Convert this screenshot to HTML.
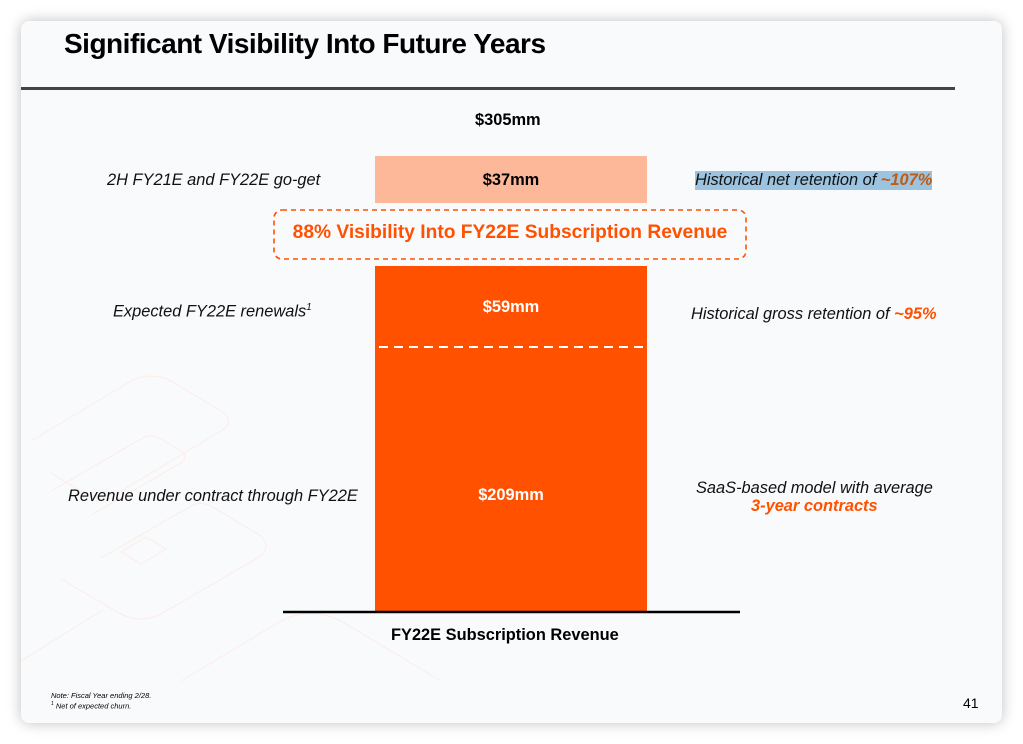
<!DOCTYPE html>
<html><head><meta charset="utf-8"><style>
html,body{margin:0;padding:0;width:1023px;height:744px;background:#fff;overflow:hidden;font-family:"Liberation Sans",Arial,sans-serif}
.slide{position:absolute;left:21px;top:21px;width:981px;height:702px;background:#f9fafc;border-radius:8px;box-shadow:0 0 14px rgba(0,0,0,0.25);overflow:hidden}
.a{position:absolute;white-space:nowrap}
.t{left:43px;top:7px;font-size:28px;font-weight:bold;color:#000;letter-spacing:-0.5px}
.rule{position:absolute;left:0;top:66px;width:934px;height:3px;background:#444}
.i{font-style:italic;font-size:16.4px;color:#111}
.o{color:#ff5100;font-weight:bold}
.b{font-weight:bold;font-size:16.4px}
</style></head><body>
<div class="slide">
<svg style="position:absolute;left:0;top:0" width="981" height="702">
 <g fill="none" stroke="#fcece6" stroke-width="1">
  <path d="M10 420 L110 360 Q130 350 150 360 L200 390 Q215 400 200 410 L100 470 Q80 480 60 470 L30 452"/>
  <path d="M30 470 L120 418 Q130 412 140 418 L160 430 Q168 436 160 442 L70 494"/>
  <path d="M80 537 L170 485 Q180 480 190 485 L240 515 Q250 525 240 535 L140 593 Q120 603 100 593 L40 558"/>
  <path d="M100 531 L125 516 L145 528 L120 543 Z"/>
  <path d="M0 640 L80 590 M160 660 L260 600 Q290 585 320 600 L420 660"/>
 </g>
 <rect x="354" y="135" width="272" height="47" fill="#fdb899"/>
 <rect x="354" y="245" width="272" height="347" fill="#ff5100"/>
 <line x1="358" y1="326" x2="624" y2="326" stroke="#fff" stroke-width="2" stroke-dasharray="9,6"/>
 <rect x="253" y="189" width="472" height="49" rx="8" fill="none" stroke="#ff5100" stroke-width="1.6" stroke-dasharray="5,4"/>
 <line x1="262" y1="591" x2="719" y2="591" stroke="#000" stroke-width="2.5"/>
</svg>
<div class="a t">Significant Visibility Into Future Years</div>
<div class="rule"></div>
<div class="a b" style="left:454px;top:90px">$305mm</div>
<div class="a b" style="left:354px;width:272px;text-align:center;top:150px">$37mm</div>
<div class="a b" style="left:354px;width:272px;text-align:center;top:277px;color:#fff">$59mm</div>
<div class="a b" style="left:354px;width:272px;text-align:center;top:465px;color:#fff">$209mm</div>
<div class="a o" style="left:253px;width:472px;text-align:center;top:201px;font-size:19.2px">88% Visibility Into FY22E Subscription Revenue</div>
<div class="a i" style="left:86px;top:150px">2H FY21E and FY22E go-get</div>
<div class="a i" style="left:92px;top:281px">Expected FY22E renewals<sup style="font-size:10px">1</sup></div>
<div class="a i" style="left:47px;top:466px">Revenue under contract through FY22E</div>
<div class="a i" style="left:674px;top:150px;background:#9cc3df">Historical net retention of <span style="color:#c25a10;font-weight:bold">~107%</span></div>
<div class="a i" style="left:670px;top:284px">Historical gross retention of <span class="o">~95%</span></div>
<div class="a i" style="left:675px;top:458px">SaaS-based model with average</div>
<div class="a i o" style="left:730px;top:476px">3-year contracts</div>
<div class="a b" style="left:370px;top:605px">FY22E Subscription Revenue</div>
<div class="a" style="left:30px;top:670px;font-size:7.5px;font-style:italic;line-height:9px">Note: Fiscal Year ending 2/28.<br><sup style="font-size:5px">1</sup> Net of expected churn.</div>
<div class="a" style="left:942px;top:674px;font-size:14px">41</div>
</div>
</body></html>
